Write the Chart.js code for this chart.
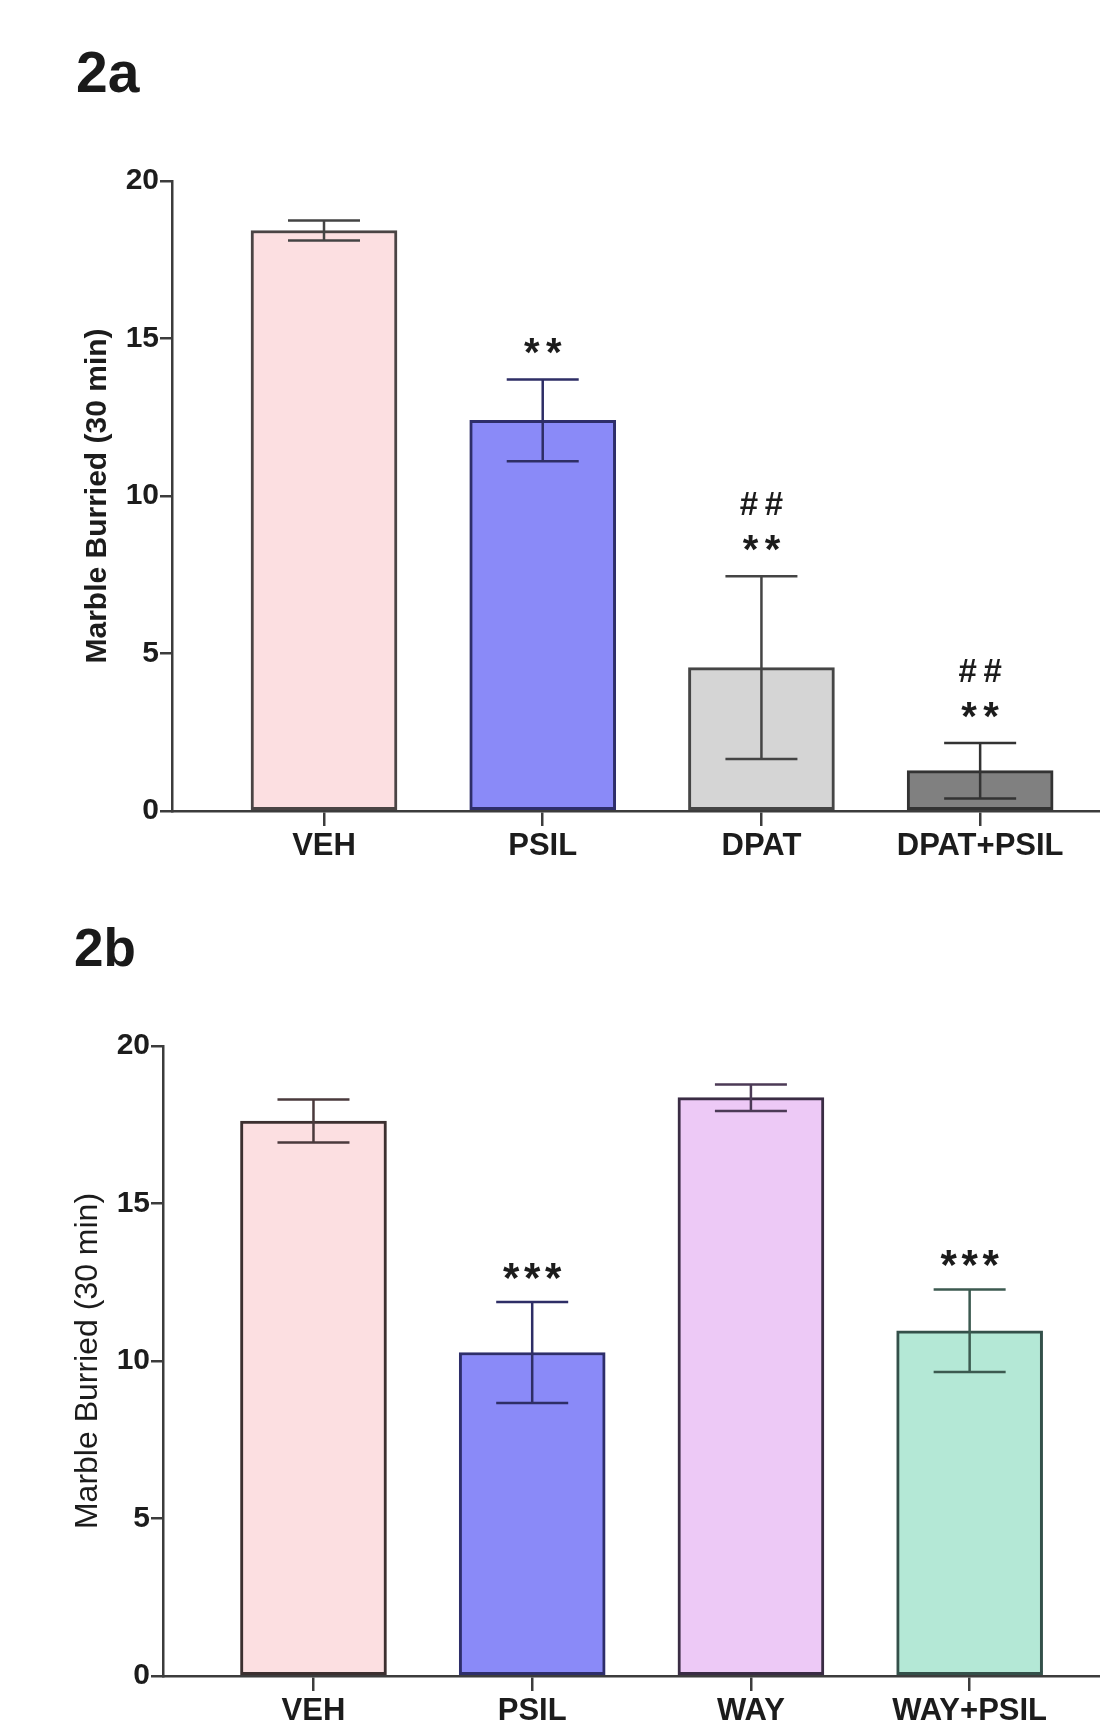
<!DOCTYPE html>
<html>
<head>
<meta charset="utf-8">
<script src="https://cdn.jsdelivr.net/npm/chart.js@4.4.0/dist/chart.umd.min.js"></script>
<style>
  body { margin: 0; background: #fff; width: 1100px; height: 1722px; position: relative; overflow: hidden; font-family: "Liberation Sans", Arial, sans-serif; }
  canvas { position: absolute; left: 0; }
  .tag { position: absolute; font-weight: bold; color: #1a1a1a; line-height: 1; }
</style>
</head>
<body>
<div class="tag" style="left:76px; top:44px; font-size:57px">2a</div>
<div class="tag" style="left:74px; top:921px; font-size:53px">2b</div>
<canvas id="chartA" width="1100" height="880" style="top:0"></canvas>
<canvas id="chartB" width="1100" height="842" style="top:880px"></canvas>
<script>
// panel 2a
const catsA = ['VEH', 'PSIL', 'DPAT', 'DPAT+PSIL'];
const meansA = [18.43, 12.4, 4.55, 1.28];
const semsA = [0.32, 1.3, 2.9, 0.88];
const starsA = ['', '**', '**', '**'];
const hashA = ['', '', '##', '##'];

// panel 2b
const catsB = ['VEH', 'PSIL', 'WAY', 'WAY+PSIL'];
const meansB = [17.62, 10.27, 18.36, 10.96];
const semsB = [0.68, 1.6, 0.42, 1.31];
const starsB = ['', '***', '', '***'];
const hashB = ['', '', '', ''];

const yTicks = [0, 5, 10, 15, 20];
const yTitle = 'Marble Burried (30 min)';

const textColor = '#1c1c1c';
const axisColor = '#3c3c3c';

// draws the sem whiskers and the significance marks above them
const errorBars = {
  id: 'errorBars',
  afterDatasetsDraw(chart, args, opts) {
    const ctx = chart.ctx;
    const x = chart.scales.x, y = chart.scales.y;
    ctx.save();
    opts.means.forEach((m, i) => {
      const cx = x.getPixelForValue(i);
      const top = y.getPixelForValue(m + opts.sems[i]);
      const bot = y.getPixelForValue(m - opts.sems[i]);
      ctx.strokeStyle = opts.colors[i];
      ctx.lineWidth = 2.5;
      ctx.beginPath();
      ctx.moveTo(cx, top); ctx.lineTo(cx, bot);
      ctx.moveTo(cx - 36, top); ctx.lineTo(cx + 36, top);
      ctx.moveTo(cx - 36, bot); ctx.lineTo(cx + 36, bot);
      ctx.stroke();

      ctx.fillStyle = textColor;
      ctx.textAlign = 'center';
      ctx.textBaseline = 'alphabetic';
      const marks = [[opts.stars[i], opts.starGap, opts.starFont, opts.starLift],
                     [opts.hash[i], 25, 'bold 33px "Liberation Sans"', 61]];
      marks.forEach(([txt, gap, font, lift]) => {
        if (!txt) return;
        ctx.font = font;
        const chars = txt.split('');
        chars.forEach((c, k) => {
          ctx.fillText(c, cx + (k - (chars.length - 1) / 2) * gap, top - lift);
        });
      });
    });
    ctx.restore();
  }
};

function makeChart(id, cats, means, sems, stars, hash, look, geo) {
  return new Chart(document.getElementById(id), {
    type: 'bar',
    data: {
      datasets: [{
        data: means.map((m, i) => ({x: i, y: m})),
        backgroundColor: look.fills,
        borderColor: look.edges,
        borderWidth: 3,
        borderSkipped: false,
        barThickness: 146
      }]
    },
    options: {
      responsive: false,
      animation: false,
      events: [],
      layout: { padding: { top: geo.top, left: 0, right: 0, bottom: 0 } },
      plugins: {
        legend: { display: false },
        tooltip: { enabled: false },
        errorBars: {
          means: means, sems: sems, stars: stars, hash: hash,
          colors: look.whiskers,
          starFont: look.starFont, starGap: look.starGap, starLift: look.starLift
        }
      },
      scales: {
        x: {
          type: 'linear',
          min: geo.xMin,
          max: geo.xMax,
          offset: false,
          afterBuildTicks: s => { s.ticks = cats.map((c, i) => ({value: i})); },
          afterFit: s => { s.height = geo.xHeight; },
          ticks: {
            callback: v => cats[v],
            autoSkip: false,
            maxRotation: 0,
            padding: 2,
            color: textColor,
            font: { family: 'Liberation Sans', size: 31, weight: 'bold' }
          },
          grid: { drawOnChartArea: false, offset: false, tickLength: 15, color: axisColor, lineWidth: 2.5 },
          border: { color: axisColor, width: 2.5 }
        },
        y: {
          min: 0,
          max: 20,
          afterBuildTicks: s => { s.ticks = yTicks.map(v => ({value: v})); },
          afterFit: s => { s.width = geo.yAxisX; },
          ticks: {
            padding: 1,
            color: textColor,
            font: { family: 'Liberation Sans', size: 30, weight: 'bold' }
          },
          grid: { drawOnChartArea: false, tickLength: 12, color: axisColor, lineWidth: 2.5 },
          border: { color: axisColor, width: 2.5 },
          title: {
            display: true,
            text: yTitle,
            color: textColor,
            padding: { top: geo.titlePad, bottom: 0 },
            font: look.titleFont
          }
        }
      }
    },
    plugins: [errorBars]
  });
}

makeChart('chartA', catsA, meansA, semsA, starsA, hashA, {
  fills: ['#fcdfe1', '#8a8af8', '#d5d5d5', '#808080'],
  edges: ['#4a4444', '#2e2e6a', '#454545', '#333333'],
  whiskers: ['#444444', '#2e2e66', '#444444', '#333333'],
  titleFont: { family: 'Liberation Sans', size: 30, weight: 'bold' },
  starFont: 'bold 40px "Liberation Sans"', starGap: 22, starLift: 13
}, { top: 181, xHeight: 69, yAxisX: 172, xMin: -0.695, xMax: 3.548, titlePad: 80 });

makeChart('chartB', catsB, meansB, semsB, starsB, hashB, {
  fills: ['#fcdfe1', '#8a8af8', '#edc9f6', '#b4e8d6'],
  edges: ['#3c3030', '#2e2e6a', '#3a2c44', '#34504a'],
  whiskers: ['#4a3a3c', '#2e2e66', '#4c3a56', '#3c5a50'],
  titleFont: { family: 'Liberation Sans', size: 32, weight: 'normal' },
  starFont: 'bold 42px "Liberation Sans"', starGap: 21, starLift: 10
}, { top: 166, xHeight: 46, yAxisX: 163, xMin: -0.688, xMax: 3.596, titlePad: 69 });
</script>
</body>
</html>
